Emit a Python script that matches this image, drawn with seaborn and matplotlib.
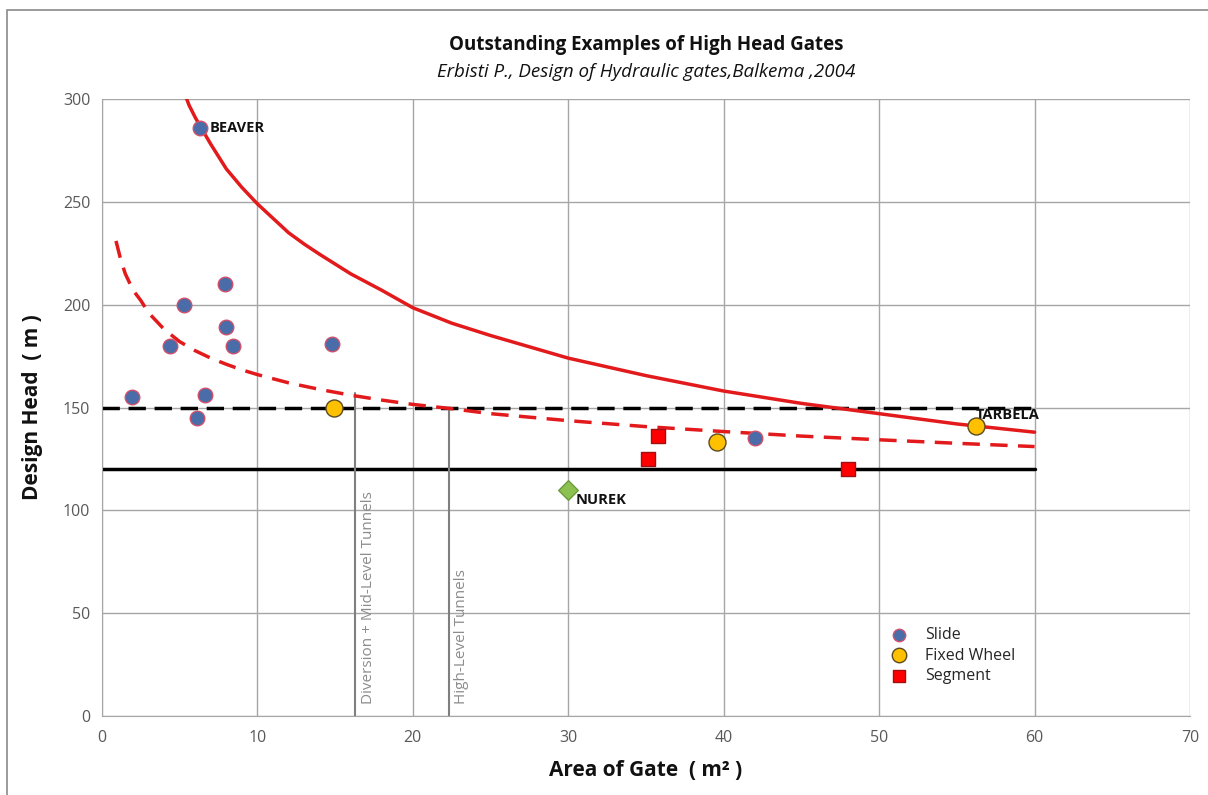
import numpy as np
import pandas as pd
import matplotlib
matplotlib.use("Agg")
import matplotlib.pyplot as plt
import seaborn as sns
from matplotlib.patches import Rectangle

# Gate data
slide_area = [6.3, 1.9, 4.4, 5.3, 7.9, 8.0, 8.4, 6.6, 6.1, 14.8, 42.0]
slide_head = [286, 155, 180, 200, 210, 189, 180, 156, 145, 181, 135]
wheel_area = [14.9, 39.6, 56.2]
wheel_head = [150, 133, 141]
segment_area = [35.8, 35.1, 48.0]
segment_head = [136, 125, 120]
nurek_area = [30.0]
nurek_head = [110]

# Envelope curves
upper_x = [5.3, 5.6, 6, 6.3, 7, 7.5, 8, 9, 10, 11, 12, 13, 14, 16, 18, 20, 22.5, 25, 27.5,
           30, 35, 40, 45, 50, 55, 60]
upper_y = [303, 297, 291, 287, 278, 272, 266, 257, 249, 242, 235, 229.5, 224.5, 215, 207, 198.5,
           191, 185, 179.5, 174, 165.5, 158, 152, 147, 142, 138]
lower_x = [0.9, 1.2, 1.5, 2, 2.5, 3, 3.5, 4, 5, 6, 7, 8, 9, 10, 12, 14, 16, 18, 20, 22.3, 25,
           30, 35, 40, 45, 50, 55, 60]
lower_y = [231, 222, 215, 207, 202, 196, 192, 188, 182, 177.6, 174, 171, 168.3, 166, 162, 158.8,
           156, 153.6, 151.5, 149.6, 147, 143.6, 140.7, 138.3, 136.1, 134.3, 132.6, 131]

# Reference levels and tunnel limits
level_x = [0, 60]
dashed_level = [150, 150]
solid_level = [120, 120]
tunnel_x = [16.3, 22.3]
tunnel_top = [157, 150]
tunnel_names = ["Diversion + Mid-Level Tunnels", "High-Level Tunnels"]

gates = pd.DataFrame({
    "area": slide_area + wheel_area + segment_area,
    "head": slide_head + wheel_head + segment_head,
    "type": ["Slide"] * len(slide_area) + ["Fixed Wheel"] * len(wheel_area) + ["Segment"] * len(segment_area),
})

sns.set_style("white")
plt.rcParams["font.family"] = ["Open Sans", "DejaVu Sans"]

fig = plt.figure(figsize=(12.08, 7.95), dpi=100)
ax = fig.add_axes([102 / 1208, 79 / 795, 1088 / 1208, 617 / 795])

# outer frame of the chart area
fig.patches.append(Rectangle((7 / 1208, -0.1), 1.2, 1 - 10 / 795 + 0.1, transform=fig.transFigure,
                             fill=False, edgecolor="#8a8a8a", lw=1.2))

ax.set_xlim(0, 70)
ax.set_ylim(0, 300)
ax.set_xticks(range(0, 71, 10))
ax.set_yticks(range(0, 301, 50))
ax.grid(True, color="#a6a6a6", lw=1)
ax.set_axisbelow(True)
for s in ["top", "right"]:
    ax.spines[s].set_visible(False)
for s in ["left", "bottom"]:
    ax.spines[s].set_color("#a6a6a6")
ax.tick_params(axis="both", colors="#a6a6a6", length=5, direction="out", labelsize=11.5, labelcolor="#595959")
ax.xaxis.set_tick_params(pad=5)

# levels
ax.plot(level_x, dashed_level, color="black", lw=2.5, ls=(0, (5, 2.5)), zorder=2)
ax.plot(level_x, solid_level, color="black", lw=2.5, zorder=2)

# tunnels
for tx, top, name in zip(tunnel_x, tunnel_top, tunnel_names):
    ax.plot([tx, tx], [0, top], color="#7f7f7f", lw=1.5, zorder=2)
    ax.text(tx + 0.35, 6, name, rotation=90, ha="left", va="bottom", color="#8c8c8c", fontsize=11)

# envelope curves
sns.lineplot(x=upper_x, y=upper_y, ax=ax, color="#e31a1c", lw=2.5, zorder=3, sort=False)
sns.lineplot(x=lower_x, y=lower_y, ax=ax, color="#e31a1c", lw=2.5, zorder=3, sort=False,
             linestyle=(0, (5, 3)))

palette = {"Slide": "#4a6ca8", "Fixed Wheel": "#ffc000", "Segment": "#ff0000"}
markers = {"Slide": "o", "Fixed Wheel": "o", "Segment": "s"}
edges = {"Slide": "#d0506a", "Fixed Wheel": "#5a4a20", "Segment": "#a01010"}
sizes = {"Slide": 110, "Fixed Wheel": 150, "Segment": 110}
for t in ["Slide", "Fixed Wheel", "Segment"]:
    sub = gates[gates["type"] == t]
    sns.scatterplot(data=sub, x="area", y="head", ax=ax, color=palette[t], marker=markers[t],
                    s=sizes[t], edgecolor=edges[t], linewidth=1, zorder=5, label=t, clip_on=False)

sns.scatterplot(x=nurek_area, y=nurek_head, ax=ax, color="#8cc152", marker="D", s=100,
                edgecolor="#6a9a3a", linewidth=1, zorder=5, legend=False)

# labels
ax.text(6.9, 286, "BEAVER", fontsize=10.5, fontweight="bold", va="center", ha="left", color="#111111")
ax.text(56.2, 146.5, "TARBELA", fontsize=10.5, fontweight="bold", va="center", ha="left", color="#111111")
ax.text(30.5, 105, "NUREK", fontsize=10.5, fontweight="bold", va="center", ha="left", color="#111111")

leg = ax.legend(loc="upper left", bbox_to_anchor=(0.705, 0.168), frameon=False, fontsize=11.5,
                handletextpad=0.6, labelspacing=0.3, markerscale=0.85)

ax.set_xlabel("Area of Gate  ( m² )", fontsize=15, fontweight="bold", labelpad=10, color="#111111")
ax.set_ylabel("Design Head  ( m )", fontsize=15, fontweight="bold", labelpad=14, color="#111111")

fig.text(646 / 1208, 1 - 45 / 795, "Outstanding Examples of High Head Gates", ha="center", va="center",
         fontsize=13.5, fontweight="bold", color="#111111")
fig.text(646 / 1208, 1 - 72 / 795, "Erbisti P., Design of Hydraulic gates,Balkema ,2004", ha="center",
         va="center", fontsize=13.5, style="italic", color="#111111")

fig.savefig("out.png", dpi=100)
